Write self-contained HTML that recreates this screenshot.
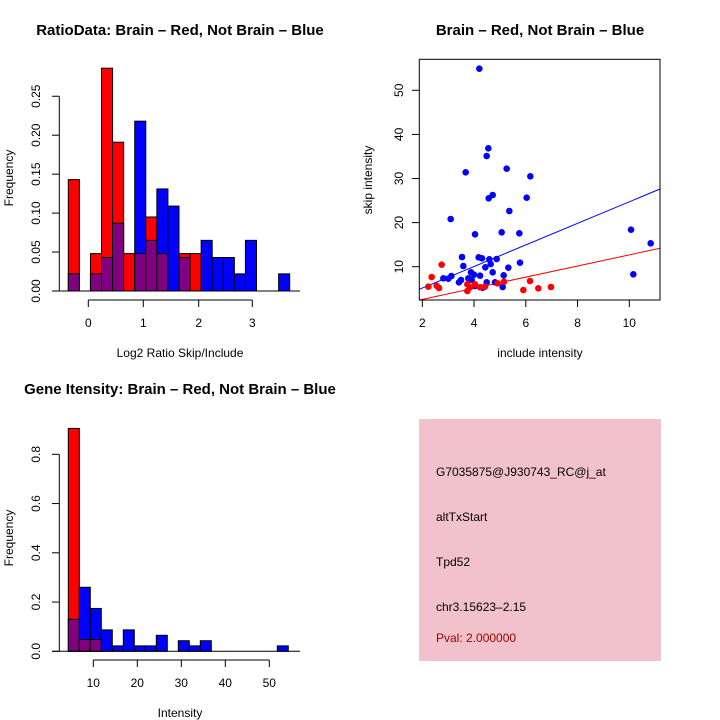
<!DOCTYPE html>
<html><head><meta charset="utf-8"><style>html,body{margin:0;padding:0;background:#fff}svg{display:block}text{font-family:"Liberation Sans",sans-serif}</style></head><body>
<svg width="720" height="720" viewBox="0 0 720 720" xmlns="http://www.w3.org/2000/svg">
<g font-weight="bold" font-size="15" text-anchor="middle">
<text x="180" y="35">RatioData: Brain – Red, Not Brain – Blue</text>
<text x="540" y="35">Brain – Red, Not Brain – Blue</text>
<text x="180" y="394">Gene Itensity: Brain – Red, Not Brain – Blue</text>
</g>
<g font-size="12" text-anchor="middle">
<text x="180" y="357">Log2 Ratio Skip/Include</text>
<text x="540" y="357">include intensity</text>
<text x="180" y="717">Intensity</text>
<text transform="translate(13,178) rotate(-90)">Frequency</text>
<text transform="translate(13,538) rotate(-90)">Frequency</text>
<text transform="translate(372,180) rotate(-90)">skip intensity</text>
</g>
<g id="h1" stroke="#000" stroke-width="1"></g>
<g id="h2" stroke="#000" stroke-width="1"></g>
<g id="sc"></g>
<rect x="419" y="419" width="242" height="242" fill="#f2c2cc"/>
<g font-size="12">
<text x="436" y="476">G7035875@J930743_RC@j_at</text>
<text x="436" y="521">altTxStart</text>
<text x="436" y="566">Tpd52</text>
<text x="436" y="611">chr3.15623–2.15</text>
<text x="436" y="642" fill="#a00000">Pval: 2.000000</text>
</g>
</svg>
<script>
const NS="http://www.w3.org/2000/svg";
function el(p,t,a,txt){const e=document.createElementNS(NS,t);for(const k in a)e.setAttribute(k,a[k]);if(txt!==undefined)e.textContent=txt;p.appendChild(e);return e;}
const svg=document.querySelector('svg');
function hist(g,base,scale,x0,w,bins){
 bins.forEach((b,i)=>{if(!b)return;const [c,v,p]=b;const x=x0+w*i;
  el(g,'rect',{x:x,y:base-v*scale,width:w,height:v*scale,fill:c});
  if(p)el(g,'rect',{x:x,y:base-p*scale,width:w,height:p*scale,fill:'#800080'});});
}
const R='#ff0000',B='#0000ff';
const h1=document.getElementById('h1');
hist(h1,291,779,68.3,11.07,[[R,.143,.022],null,[R,.048,.022],[R,.286,.043],[R,.191,.087],[R,.048,0],[B,.218,.048],[R,.095,.065],[B,.131,.048],[B,.109,0],[R,.048,.043],[R,.048,0],[B,.065],[B,.043],[B,.043],[B,.022],[B,.065],null,null,[B,.022]]);
el(svg,'line',{x1:59.3,y1:291,x2:59.3,y2:96.3,stroke:'#000'});
el(svg,'line',{x1:52,y1:291,x2:300,y2:291,stroke:'#000'});
for(let i=0;i<=5;i++){const y=291-i*0.05*779;el(svg,'line',{x1:52,y1:y,x2:59.3,y2:y,stroke:'#000'});
 el(svg,'text',{transform:`translate(40,${y}) rotate(-90)`,'text-anchor':'middle','font-size':12},(i*0.05).toFixed(2));}
el(svg,'line',{x1:88.3,y1:300,x2:252.3,y2:300,stroke:'#000'});
[[0,88.3],[1,143.3],[2,198.7],[3,252.3]].forEach(([l,x])=>{el(svg,'line',{x1:x,y1:300,x2:x,y2:307,stroke:'#000'});el(svg,'text',{x:x,y:327,'text-anchor':'middle','font-size':12},l);});
const h2=document.getElementById('h2');
hist(h2,651.3,246.25,68.3,11,[[R,.905,.13],[B,.26,.048],[B,.174,.048],[B,.087],[B,.022],[B,.087],[B,.022],[B,.022],[B,.065],null,[B,.043],[B,.022],[B,.043],null,null,null,null,null,null,[B,.022]]);
el(svg,'line',{x1:59.3,y1:651.3,x2:59.3,y2:454.3,stroke:'#000'});
el(svg,'line',{x1:52,y1:651.3,x2:300,y2:651.3,stroke:'#000'});
for(let i=0;i<=4;i++){const y=651.3-i*0.2*246.25;el(svg,'line',{x1:52,y1:y,x2:59.3,y2:y,stroke:'#000'});
 el(svg,'text',{transform:`translate(40,${y}) rotate(-90)`,'text-anchor':'middle','font-size':12},(i*0.2).toFixed(1));}
el(svg,'line',{x1:93.3,y1:660,x2:269.3,y2:660,stroke:'#000'});
for(let i=0;i<5;i++){const x=93.3+i*44;el(svg,'line',{x1:x,y1:660,x2:x,y2:667,stroke:'#000'});el(svg,'text',{x:x,y:687,'text-anchor':'middle','font-size':12},(i+1)*10);}
const sc=document.getElementById('sc');
const bl=[[298,56],[325,295],[320,318],[380,356],[257,367],[451,379],[338,435],[326,445],[440,443],[388,483],[212,507],[365,547],[418,550],[285,553],[753,539],[812,580],[246,621],[296,622],[306,625],[328,628],[350,627],[250,648],[332,642],[420,638],[316,652],[273,667],[385,653],[338,667],[282,674],[300,677],[371,676],[760,673],[214,678],[190,685],[205,686],[243,690],[237,697],[265,685],[275,690],[320,697],[345,697],[285,708],[308,713],[368,711]];
const rd=[[155,681],[185,644],[145,710],[170,707],[177,714],[262,703],[262,723],[285,703],[300,712],[315,710],[353,700],[372,695],[450,693],[430,720],[475,715],[513,711],[270,712]];
el(sc,'line',{x1:419.3,y1:289.3,x2:660,y2:189,stroke:B});
el(sc,'line',{x1:419.3,y1:300,x2:660,y2:248.3,stroke:R});
bl.forEach(([x,y])=>el(sc,'circle',{cx:380+x/3,cy:50+y/3,r:3.3,fill:B}));
rd.forEach(([x,y])=>el(sc,'circle',{cx:380+x/3,cy:50+y/3,r:3.3,fill:R}));
el(sc,'rect',{x:419.3,y:59.3,width:240.7,height:240.7,fill:'none',stroke:'#000'});
[2,4,6,8,10].forEach(v=>{const x=422.3+(v-2)*25.875;el(sc,'line',{x1:x,y1:300,x2:x,y2:307,stroke:'#000'});el(sc,'text',{x:x,y:327,'text-anchor':'middle','font-size':12},v);});
[10,20,30,40,50].forEach(v=>{const y=266.7-(v-10)*4.41;el(sc,'line',{x1:412,y1:y,x2:419.3,y2:y,stroke:'#000'});el(sc,'text',{transform:`translate(403,${y}) rotate(-90)`,'text-anchor':'middle','font-size':12},v);});
</script>
</body></html>
